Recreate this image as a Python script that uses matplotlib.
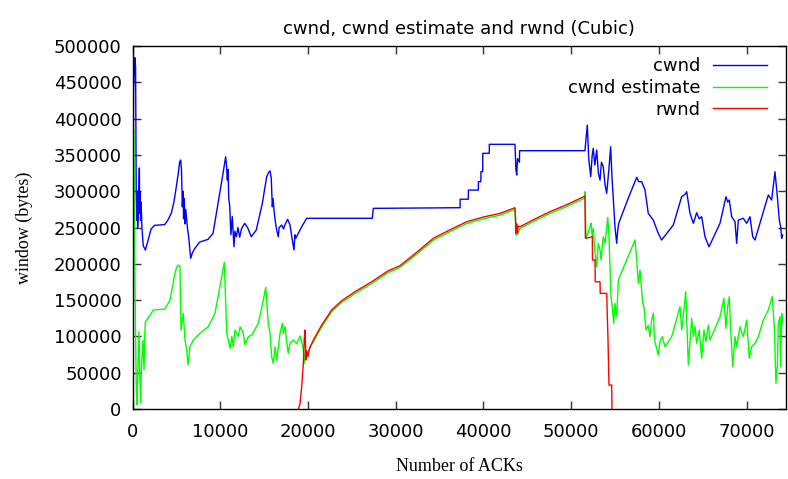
import matplotlib
matplotlib.use("Agg")
import matplotlib.pyplot as plt

# cwnd trace (ACK index, bytes)
cwnd_x = [0, 100, 250, 330, 400, 450, 500, 560, 650, 760, 800, 850, 900, 960, 1050,
          1200, 1440, 1700, 2100, 2500, 3650, 4000, 4400, 4700, 4970, 5200, 5360, 5470,
          5560, 5660, 5750, 5800, 5880, 5950, 6050, 6230, 6400, 6610, 6800, 7070, 7640,
          8590, 9160, 9730, 10300, 10500, 10600, 10700, 10790, 10880, 10950, 11060,
          11200, 11350, 11550, 11650, 11820, 12000, 12200, 12400, 12770, 13100, 13520,
          14090, 14780, 15280, 15500, 15660, 15800, 15920, 16000, 16150, 16300, 16420,
          16600, 16700, 16990, 17200, 17370, 17670, 17940, 18200, 18390, 18500, 18590,
          19270, 19840, 27320, 27440, 37330, 37340, 38270, 38280, 39410, 39420, 39700,
          39710, 39910, 39920, 40660, 40670, 40820, 43590, 43700, 43790, 43880, 43970,
          44100, 44120, 44470, 51570, 51840, 52000, 52230, 52400, 52520, 52700, 52910,
          53100, 53290, 53450, 53660, 53850, 54050, 54300, 54500, 54650, 54810, 55000,
          55190, 55300, 55420, 56500, 57470, 57700, 58040, 58420, 58790, 59360, 59930,
          60310, 61640, 62600, 63000, 63170, 63350, 63550, 63930, 64310, 64600, 64880,
          65260, 65720, 66970, 67650, 67850, 68030, 68300, 68680, 68870, 69060, 69630,
          70010, 70390, 70700, 70960, 72480, 72860, 73240, 73510, 73730, 73890, 74000,
          74120]
cwnd_y = [120000, 440000, 484000, 470000, 300000, 260000, 300000, 250000, 270000,
          332000, 270000, 300000, 260000, 285000, 250000, 225000, 219000, 230000, 248000,
          253000, 254000, 260000, 269500, 285000, 306000, 325000, 340600, 343000, 330000,
          278600, 300000, 262000, 290000, 255000, 275000, 251000, 235000, 207500, 215000,
          221000, 230000, 233700, 242000, 283000, 324600, 340000, 347500, 335000, 315400,
          330000, 290000, 280000, 240000, 265000, 223500, 245000, 237300, 250000, 236700,
          248000, 255800, 250000, 237300, 246500, 283300, 320000, 326000, 328000, 318000,
          278600, 290000, 269500, 255000, 246500, 237300, 250000, 253400, 248000, 254000,
          261300, 253400, 232800, 219000, 240000, 235100, 251100, 262700, 262700, 276400,
          277300, 289000, 289000, 301600, 301600, 313100, 313100, 326900, 326900, 352200,
          352200, 364600, 364600, 364600, 330000, 322300, 345000, 343000, 340000, 355800,
          355800, 355800, 391200, 345000, 320000, 350000, 359100, 336000, 356700, 325000,
          315400, 340000, 333700, 310000, 297100, 330000, 361300, 320000, 287900, 250000,
          228200, 245000, 255800, 290000, 319100, 313100, 313100, 301600, 269500, 260300,
          242000, 232800, 253400, 292400, 296000, 299300, 285000, 269500, 255800, 270400,
          262000, 264900, 237300, 223500, 255800, 292400, 285000, 287900, 264900, 258000,
          228200, 260300, 262700, 255800, 264900, 237300, 232800, 294800, 287900, 326900,
          292400, 260300, 251100, 235100, 239700]

# cwnd estimate trace
est_x = [0, 100, 200, 330, 420, 490, 600, 720, 800, 910, 980, 1060, 1170, 1290, 1370,
         1440, 1740, 2350, 3680, 4250, 4820, 5000, 5200, 5390, 5510, 5770, 5960, 6160,
         6300, 6530, 6910, 7670, 8620, 9380, 9950, 10200, 10450, 10720, 10900, 11100,
         11300, 11470, 11660, 12040, 12240, 12610, 12800, 13180, 13570, 14320, 14890,
         15170, 15460, 15660, 15850, 16030, 16230, 16420, 16800, 17060, 17170, 17370,
         17560, 17740, 17940, 18310, 18700, 19080, 19270, 19460, 19570, 19730, 19960,
         20220, 20600, 21550, 22690, 23830, 25350, 27250, 29150, 30480, 32400, 34280,
         36200, 38090, 40000, 41880, 43590, 43700, 43900, 44160, 45900, 47580, 49600,
         51530, 51570, 51690, 52150, 52260, 52410, 52520, 52720, 52910, 53090, 53290,
         53400, 53660, 53860, 54170, 54310, 54540, 54690, 54850, 55000, 55190, 55380,
         57280, 57470, 57660, 57850, 58150, 58300, 58530, 58790, 58990, 59170, 59380,
         59500, 59930, 60120, 60390, 60700, 61460, 62410, 62600, 62900, 63060, 63360,
         63740, 63930, 64120, 64310, 64610, 64880, 65140, 65370, 65640, 65830, 66970,
         67420, 67650, 67850, 68030, 68190, 68420, 68680, 68870, 69250, 69630, 70010,
         70310, 70580, 70960, 71340, 71910, 72480, 72930, 73160, 73350, 73510, 73620,
         73810, 73890, 74000, 74120]
est_y = [0, 384000, 250000, 100000, 20000, 5500, 60000, 106500, 50000, 8300, 53700,
         70000, 95000, 53700, 99600, 120200, 125000, 136400, 137700, 150100, 186900,
         195000, 198300, 196000, 108800, 131800, 95000, 81300, 60600, 85800, 95000,
         104300, 113400, 131800, 168500, 185000, 202100, 104300, 95000, 83600, 100000,
         85800, 108800, 100000, 113400, 105000, 88200, 99600, 101900, 118000, 150100,
         167700, 118000, 104300, 72000, 63000, 85800, 67500, 104300, 118000, 104000,
         113400, 92700, 76700, 90500, 95000, 90000, 100500, 92700, 81300, 63000, 81300,
         72000, 85800, 92500, 113000, 134000, 146700, 159000, 172800, 188000, 195000,
         213500, 232500, 244500, 255500, 262000, 267000, 275000, 239700, 241000, 248500,
         259500, 269300, 279500, 290500, 299300, 235100, 251100, 255800, 237300, 248900,
         214500, 196000, 228200, 219000, 205200, 237300, 228200, 264000, 237300, 154700,
         140900, 118000, 145600, 127100, 177700, 232800, 205200, 173100, 191500, 145600,
         140900, 108800, 115000, 99600, 122600, 131800, 95000, 74400, 92700, 99600,
         85800, 99600, 140900, 108800, 140900, 161600, 60600, 124900, 99600, 113400,
         90500, 108800, 69800, 108800, 92700, 115700, 95000, 127100, 152500, 111100,
         140900, 154700, 108800, 58300, 99600, 85800, 113400, 99600, 122600, 69800, 85800,
         90500, 99600, 122600, 136400, 154700, 113400, 35400, 58300, 118000, 127100,
         58300, 131800, 118000]

# rwnd trace
rwnd_x = [18900, 19080, 19270, 19460, 19560, 19650, 19760, 19860, 19960, 20100, 20600,
          21550, 22690, 23830, 25350, 27250, 29150, 30480, 32400, 34280, 36200, 38090,
          40000, 41880, 43590, 43650, 43710, 43800, 43880, 43950, 44160, 45900, 47580,
          49600, 51570, 51620, 52410, 52430, 52720, 52740, 53290, 53310, 54050, 54200,
          54310, 54620, 54650]
rwnd_y = [0, 7800, 30700, 63000, 95000, 108800, 67500, 80000, 72000, 81300, 95000,
          115700, 136400, 149200, 161600, 175300, 190500, 197400, 216000, 235100, 247000,
          258000, 264500, 269500, 277300, 265000, 242000, 255000, 243000, 252000, 251100,
          262000, 271800, 282000, 293400, 235100, 237300, 205200, 205200, 175300, 175300,
          159300, 159300, 95000, 33000, 33000, 0]

fig = plt.figure(figsize=(7.88, 4.79), dpi=100)
ax = fig.add_axes([0.1684, 0.1461, 0.8291, 0.7578])

ax.plot(cwnd_x, cwnd_y, color="#0000ff", lw=1.0, label="cwnd")
ax.plot(est_x, est_y, color="#00ff00", lw=1.0, label="cwnd estimate")
ax.plot(rwnd_x, rwnd_y, color="#ff0000", lw=1.0, label="rwnd")

ax.set_xlim(0, 74500)
ax.set_ylim(0, 500000)
ax.set_xticks(range(0, 70001, 10000))
ax.set_yticks(range(0, 500001, 50000))
ax.ticklabel_format(style="plain", useOffset=False)
ax.tick_params(direction="in", top=True, right=True, length=6, width=1,
               labelsize=13, color="#333333")
ax.tick_params(axis="y", pad=8)
ax.tick_params(axis="x", pad=10)
for s in ax.spines.values():
    s.set_linewidth(1.0)

ax.set_title("cwnd, cwnd estimate and rwnd (Cubic)", fontsize=13, pad=9)
ax.set_xlabel("Number of ACKs", family="Liberation Serif", fontsize=13, labelpad=12)
ax.set_ylabel("window (bytes)", family="Liberation Serif", fontsize=13, labelpad=15)

ax.legend(loc="upper right", bbox_to_anchor=(0.971, 0.969), frameon=False,
          markerfirst=False, fontsize=13, handlelength=3.0, handletextpad=0.7,
          labelspacing=0.2, borderpad=0, borderaxespad=0)

fig.savefig("out.png", dpi=100)
